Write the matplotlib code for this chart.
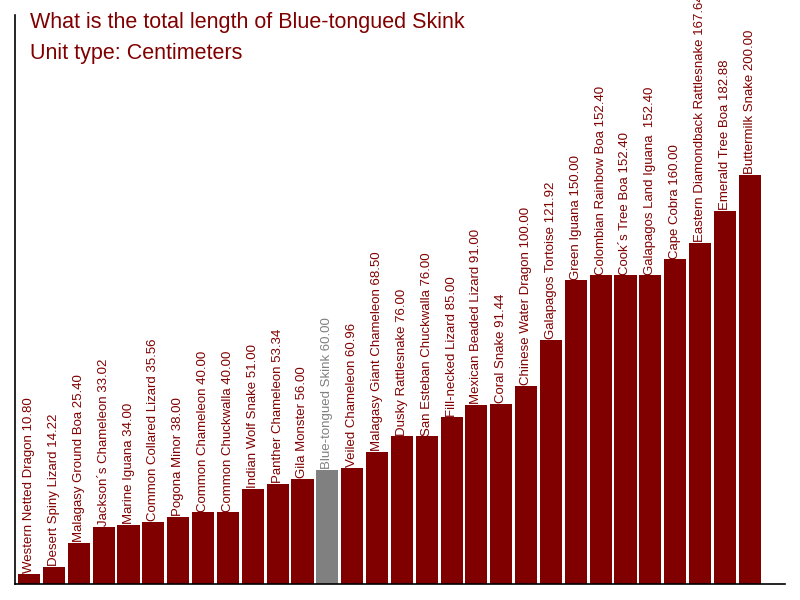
import numpy as np
import matplotlib
matplotlib.use("Agg")
import matplotlib.pyplot as plt

plt.rcParams['font.family'] = ['Liberation Sans', 'DejaVu Sans']

# === DATA ===
names = [
    "Western Netted Dragon", "Desert Spiny Lizard", "Malagasy Ground Boa",
    "Jackson´s Chameleon", "Marine Iguana", "Common Collared Lizard",
    "Pogona Minor", "Common Chameleon", "Common Chuckwalla",
    "Indian Wolf Snake", "Panther Chameleon", "Gila Monster",
    "Blue-tongued Skink", "Veiled Chameleon", "Malagasy Giant Chameleon",
    "Dusky Rattlesnake", "San Esteban Chuckwalla", "Fill-necked Lizard",
    "Mexican Beaded Lizard", "Coral Snake", "Chinese Water Dragon",
    "Galapagos Tortoise", "Green Iguana", "Colombian Rainbow Boa",
    "Cook´s Tree Boa", "Galapagos Land Iguana ", "Cape Cobra",
    "Eastern Diamondback Rattlesnake", "Emerald Tree Boa", "Buttermilk Snake",
]
lengths = [
    10.80, 14.22, 25.40, 33.02, 34.00, 35.56, 38.00, 40.00, 40.00, 51.00,
    53.34, 56.00, 60.00, 60.96, 68.50, 76.00, 76.00, 85.00, 91.00, 91.44,
    100.00, 121.92, 150.00, 152.40, 152.40, 152.40, 160.00, 167.64, 182.88, 200.00,
]
highlight = "Blue-tongued Skink"

# === PLOT ===
fig = plt.figure(figsize=(8, 6), dpi=100)
ax = fig.add_axes([15 / 800, 16 / 600, 770 / 800, 569 / 600])

x = np.arange(len(names))
colors = ['#808080' if n == highlight else '#800000' for n in names]
ax.bar(x, lengths, width=0.89, color=colors, bottom=0)

# labels sit on top of each bar, rotated
for xi, n, v, c in zip(x, names, lengths, colors):
    ax.annotate(f"{n} {v:.2f}", (xi, v), xytext=(0, 0.5), textcoords='offset points',
                rotation=90, ha='center', va='bottom', fontsize=9.5, color=c)

ax.set_xlim(-0.57, 30.42)
ax.set_ylim(6.0, 275.8)
ax.set_xticks([])
ax.set_yticks([])
ax.spines['top'].set_visible(False)
ax.spines['right'].set_visible(False)
ax.spines['left'].set_linewidth(1.2)
ax.spines['bottom'].set_linewidth(1.2)

fig.text(30 / 800, 1 - 28 / 600, "What is the total length of Blue-tongued Skink",
         color='#800000', fontsize=15.5, va='baseline', ha='left')
fig.text(30 / 800, 1 - 59 / 600, "Unit type: Centimeters",
         color='#800000', fontsize=15.5, va='baseline', ha='left')

fig.savefig("out.png", dpi=100)
